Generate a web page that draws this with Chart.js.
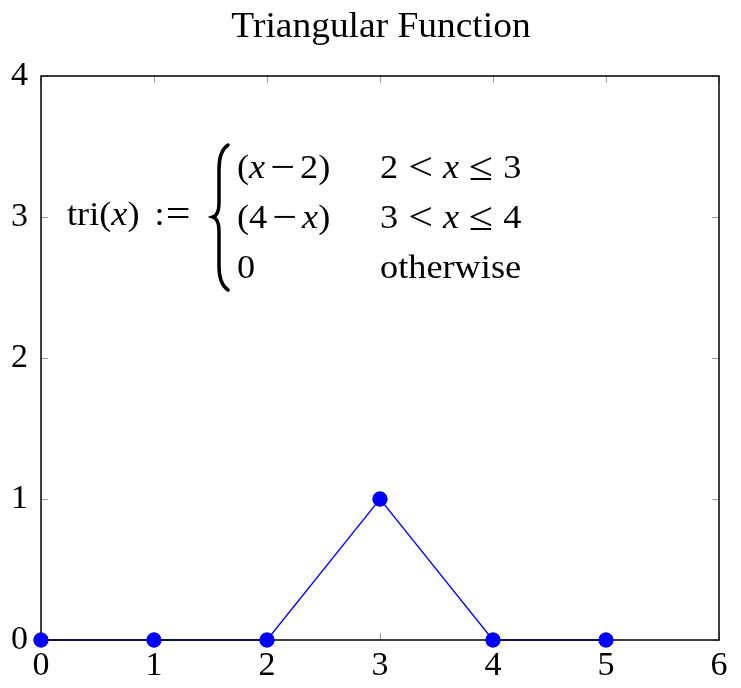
<!DOCTYPE html>
<html>
<head>
<meta charset="utf-8">
<script src="https://cdn.jsdelivr.net/npm/chart.js@4.4.0/dist/chart.umd.min.js"></script>
<style>
  html, body { margin: 0; padding: 0; background: #fff; }
  #wrap { width: 741px; height: 688px; }
</style>
</head>
<body>
<div id="wrap"><canvas id="triChart" width="741" height="688"></canvas></div>
<script>
// data
const xValues = [0, 1, 2, 3, 4, 5];
const yValues = [0, 0, 0, 1, 0, 0];
const xTicks = [0, 1, 2, 3, 4, 5, 6];
const yTicks = [0, 1, 2, 3, 4];
const titleText = 'Triangular Function';

const serif = '"Liberation Serif", "DejaVu Serif", serif';
const stretch = 1.1; // Times is narrower than the TeX font, widen it a bit

// formula runs: [text, italic, size?] or a number = extra gap in px
const opSize = 40;
const lhsRuns = [['tri(', false], ['x', true], [')', false], 15, [':', false], 1, ['=', false, opSize]];
const caseRows = [
  [[['(', false], ['x', true], 5, ['\u2212', false, opSize], 5, ['2)', false]],
   [['2', false], 10, ['<', false, opSize], 10, ['x', true], 10, ['\u2264', false, opSize], 10, ['3', false]]],
  [[['(4', false], 5, ['\u2212', false, opSize], 5, ['x', true], [')', false]],
   [['3', false], 10, ['<', false, opSize], 10, ['x', true], 10, ['\u2264', false, opSize], 10, ['4', false]]],
  [[['0', false]], [['otherwise', false]]]
];

function drawRuns(ctx, runs, x, y, size) {
  let cx = x;
  runs.forEach(r => {
    if (typeof r === 'number') { cx += r; return; }
    const [t, it, sz] = r;
    const s = sz || size;
    // bigger operator glyphs sit a little lower so they stay on the math axis
    const dy = (s - size) * 0.3;
    ctx.font = (it ? 'italic ' : '') + s + 'px ' + serif;
    ctx.save();
    ctx.translate(cx, y + dy);
    ctx.scale(stretch, 1);
    ctx.fillText(t, 0, 0);
    ctx.restore();
    cx += ctx.measureText(t).width * stretch;
  });
}

// box, inner ticks, title and the tri(x) formula
const framePlugin = {
  id: 'frame',
  afterDatasetsDraw(chart) {
    const { ctx, chartArea: a, scales } = chart;
    ctx.save();
    // inner tick marks
    ctx.strokeStyle = '#a0a0a0';
    ctx.lineWidth = 1;
    const tl = 7;
    ctx.beginPath();
    xTicks.forEach(v => {
      const px = Math.round(scales.x.getPixelForValue(v)) + 0.5;
      ctx.moveTo(px, a.bottom); ctx.lineTo(px, a.bottom - tl);
      ctx.moveTo(px, a.top); ctx.lineTo(px, a.top + tl);
    });
    yTicks.forEach(v => {
      const py = Math.round(scales.y.getPixelForValue(v)) + 0.5;
      ctx.moveTo(a.left, py); ctx.lineTo(a.left + tl, py);
      ctx.moveTo(a.right, py); ctx.lineTo(a.right - tl, py);
    });
    ctx.stroke();

    // title
    ctx.fillStyle = '#000';
    ctx.textBaseline = 'alphabetic';
    ctx.textAlign = 'center';
    ctx.font = '35px ' + serif;
    ctx.save();
    ctx.translate((a.left + a.right) / 2 + 1, 37);
    ctx.scale(1.07, 1);
    ctx.fillText(titleText, 0, 0);
    ctx.restore();

    // formula
    ctx.textAlign = 'left';
    const ox = a.left;
    const oy = scales.y.getPixelForValue(3);
    const fs = 33;
    drawRuns(ctx, lhsRuns, ox + 26, oy + 8, fs);
    const rowBase = [oy - 39, oy + 11, oy + 61];
    caseRows.forEach((row, i) => {
      drawRuns(ctx, row[0], ox + 196, rowBase[i], fs);
      drawRuns(ctx, row[1], ox + 339, rowBase[i], fs);
    });
    // brace
    const bx = ox + 178, top = oy - 72, bot = oy + 73;
    ctx.strokeStyle = '#000';
    ctx.lineWidth = 3.5;
    ctx.lineCap = 'round';
    ctx.beginPath();
    ctx.moveTo(bx + 9, top);
    ctx.quadraticCurveTo(bx, top + 6, bx, top + 24);
    ctx.lineTo(bx, oy - 14);
    ctx.quadraticCurveTo(bx, oy - 2, bx - 6, oy);
    ctx.quadraticCurveTo(bx, oy + 2, bx, oy + 14);
    ctx.lineTo(bx, bot - 24);
    ctx.quadraticCurveTo(bx, bot - 6, bx + 9, bot);
    ctx.stroke();

    // frame
    ctx.strokeStyle = '#000';
    ctx.lineWidth = 1.5;
    ctx.strokeRect(a.left, a.top, a.right - a.left, a.bottom - a.top);
    ctx.restore();
  }
};

// keep the markers above the frame
const markerPlugin = {
  id: 'markersOnTop',
  afterDraw(chart) {
    const meta = chart.getDatasetMeta(0);
    const { ctx } = chart;
    ctx.save();
    meta.data.forEach(pt => pt.draw(ctx));
    ctx.restore();
  }
};

new Chart(document.getElementById('triChart'), {
  type: 'scatter',
  data: {
    datasets: [{
      data: xValues.map((x, i) => ({ x: x, y: yValues[i] })),
      showLine: true,
      borderColor: '#0000ff',
      borderWidth: 1.3,
      backgroundColor: '#0000ff',
      pointBackgroundColor: '#0000ff',
      pointBorderWidth: 0,
      pointRadius: 7.5,
      clip: false
    }]
  },
  options: {
    responsive: false,
    animation: false,
    layout: { padding: { top: 76, right: 22, left: 0, bottom: 0 } },
    plugins: {
      legend: { display: false },
      tooltip: { enabled: false },
      title: { display: false }
    },
    scales: {
      x: {
        type: 'linear',
        min: 0, max: 6,
        afterBuildTicks: s => { s.ticks = xTicks.map(v => ({ value: v })); },
        afterFit: s => { s.height = 48; },
        grid: { display: false, drawTicks: false },
        border: { display: false },
        ticks: { color: '#000', padding: 6, font: { family: serif, size: 34 } }
      },
      y: {
        type: 'linear',
        min: 0, max: 4,
        afterBuildTicks: s => { s.ticks = yTicks.map(v => ({ value: v })); },
        afterFit: s => { s.width = 41; },
        grid: { display: false, drawTicks: false },
        border: { display: false },
        ticks: { color: '#000', padding: 13, font: { family: serif, size: 34 } }
      }
    }
  },
  plugins: [framePlugin, markerPlugin]
});
</script>
</body>
</html>
